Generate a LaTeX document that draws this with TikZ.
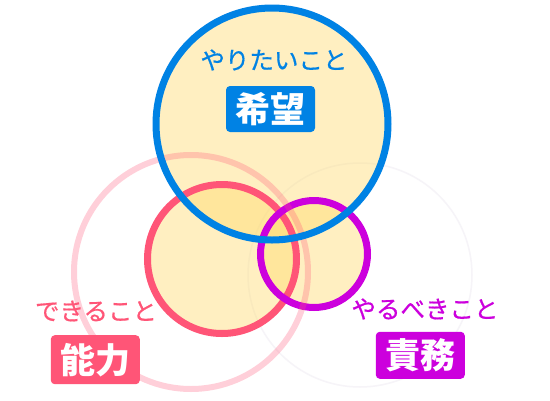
\documentclass[tikz,border=0pt]{standalone}
\usepackage{fontspec}
\newfontfamily\jp{Noto Sans CJK JP}
\newfontfamily\jpm[FakeBold=0.6]{Noto Sans CJK JP}
\definecolor{cblue}{RGB}{0,130,228}
\definecolor{cred}{RGB}{255,85,119}
\definecolor{cpurple}{RGB}{204,0,221}
\definecolor{cfill}{RGB}{255,217,102}
\definecolor{cfaint}{RGB}{246,244,248}
\tikzset{
  yfill/.style={fill=cfill, fill opacity=0.4, draw=none},
  ring/.style={line width=7pt, draw=#1, fill=none},
  smalltxt/.style={inner sep=0pt, font=\jpm\fontsize{24.5}{24.5}\selectfont, text=#1},
  tagbox/.style={fill=#1, rounded corners=4pt, inner sep=0pt, minimum width=89pt,
    text=white, font=\jp\bfseries\fontsize{35}{35}\selectfont}
}
\begin{document}
\begin{tikzpicture}[x=1pt,y=-1pt]
\useasboundingbox (0,0) rectangle (550,400);
\fill[white] (0,0) rectangle (550,400);
% faint ring
\draw[draw=cfaint, line width=1.5pt] (360,275) circle[radius=112];
% fills
\fill[yfill] (272,124) circle[radius=116];
\fill[yfill] (222,259) circle[radius=74.5];
\fill[yfill] (314,254) circle[radius=53.5];
% rings
\draw[ring=cred] (222,259) circle[radius=74.5];
\draw[ring=cpurple] (314,254) circle[radius=53.5];
\draw[draw=cred, draw opacity=0.28, line width=6pt] (191,272) circle[radius=117];
\draw[ring=cblue] (272,124) circle[radius=116];
% labels
\node[smalltxt=cblue] (t1) at (274,60) {やりたいこと};
\node[tagbox=cblue, minimum height=46pt] (b1) at (270.5,109) {希望};
\node[smalltxt=cred] (t2) at (96,311) {できること};
\node[tagbox=cred, minimum height=49pt] (b2) at (95.3,359.7) {能力};
\node[smalltxt=cpurple] (t3) at (425,309) {やるべきこと};
\node[tagbox=cpurple, minimum height=47pt] (b3) at (420.3,355.3) {責務};
\end{tikzpicture}
\end{document}
